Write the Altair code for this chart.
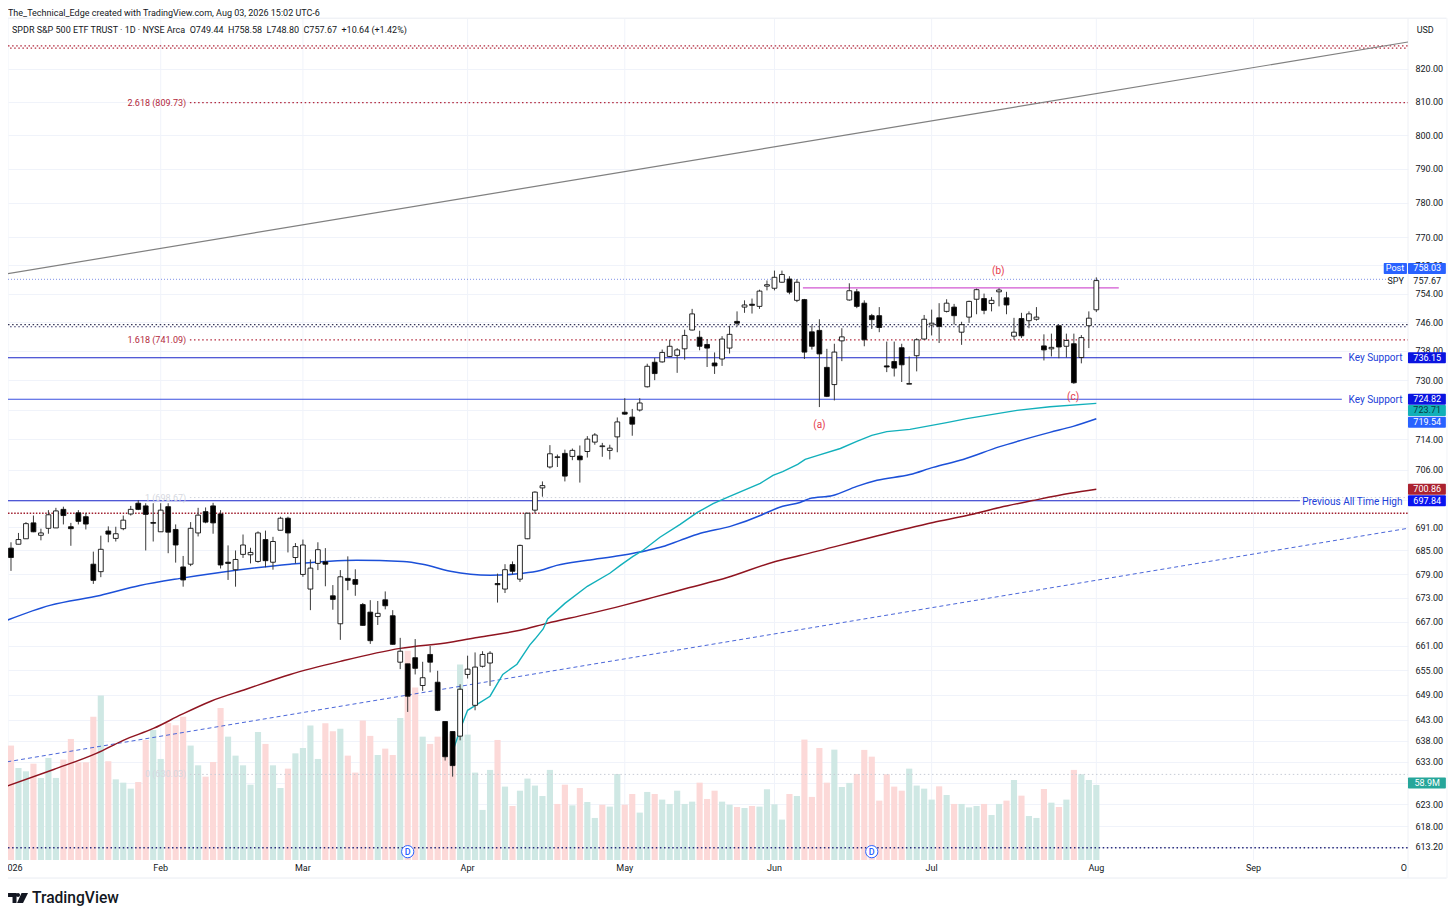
import altair as alt
import pandas as pd

opens=[685.6,686.6,688.0,692.1,688.9,690.7,690.8,695.6,691.1,694.7,
693.7,681.5,679.6,690.0,688.1,690.6,694.4,697.2,696.5,692.2,
689.8,696.3,690.4,680.8,681.5,689.5,695.0,696.5,694.4,682.0,
680.1,684.0,683.9,682.2,687.8,682.0,690.2,693.3,683.2,678.9,
675.2,681.7,682.1,673.5,666.5,677.9,677.6,671.3,669.4,668.3,
672.5,668.5,657.0,656.6,658.1,651.3,658.9,652.1,642.6,640.2,
639.1,654.0,646.5,656.0,656.8,676.6,675.2,681.4,677.7,688.0,
695.4,701.2,706.7,709.2,710.3,709.5,709.6,710.8,713.3,712.1,
711.1,714.7,721.3,720.0,721.9,728.2,734.9,735.0,736.5,736.8,
738.6,743.8,741.8,739.8,734.7,735.8,738.8,746.2,750.2,751.0,
750.4,756.1,755.5,757.2,758.1,752.1,752.3,743.3,743.7,733.5,
728.8,740.8,752.2,754.5,751.3,747.8,747.8,733.9,735.1,738.9,
728.9,736.7,741.3,745.2,747.2,749.0,750.2,743.2,747.4,752.4,
752.6,751.2,754.5,752.8,742.1,747.0,746.4,746.8,739.4,738.6,
745.0,739.3,740.0,736.2,745.0,749.44]
highs=[687.1,689.5,692.3,694.0,690.6,695.4,696.0,696.3,692.1,695.4,
694.7,684.7,688.8,691.2,691.1,694.0,696.5,698.0,697.2,697.2,
697.2,697.2,691.7,683.6,692.3,696.0,696.1,697.3,695.4,686.3,
685.0,689.1,685.7,689.9,690.1,688.5,693.7,693.7,686.9,687.8,
682.7,687.1,685.6,676.2,680.0,683.5,680.2,671.7,672.4,672.2,
674.6,669.9,663.0,656.6,662.7,657.1,661.0,654.9,642.6,640.2,
651.6,658.6,659.4,659.7,659.7,679.1,681.5,682.2,686.5,694.7,
700.3,702.9,712.5,710.0,711.3,711.6,712.4,714.9,715.7,713.1,
712.6,719.9,725.1,722.2,725.1,734.5,736.1,738.4,741.1,738.8,
743.9,749.7,743.6,741.3,737.6,742.1,745.0,749.0,752.1,752.6,
755.1,757.7,760.5,760.5,758.9,758.1,752.5,745.1,746.8,738.6,
740.0,744.3,756.9,755.3,752.1,748.3,750.2,740.6,740.6,740.0,
736.5,741.5,748.0,749.5,751.3,752.4,751.1,746.1,752.0,755.4,
754.0,753.0,755.5,754.5,747.2,748.6,749.0,750.2,742.6,742.8,
745.0,742.8,742.8,742.4,749.0,758.58]
lows=[679.8,686.6,688.0,689.7,687.6,689.3,690.8,691.7,686.2,691.7,
690.4,676.5,678.2,687.1,687.3,690.2,694.0,695.4,685.0,687.3,
689.8,684.3,681.9,675.8,681.0,688.6,692.0,689.3,680.4,677.5,
675.8,683.1,681.7,681.9,680.7,680.1,690.2,684.5,681.7,678.3,
669.9,680.0,675.9,670.0,662.5,674.9,673.5,666.0,661.5,666.2,
670.1,661.3,655.3,644.9,654.0,650.0,654.5,645.1,633.3,629.5,
638.1,653.0,645.3,655.7,651.2,671.8,674.2,678.9,677.0,687.9,
694.5,698.9,706.3,706.7,702.9,708.5,702.6,709.2,712.6,709.4,
708.7,710.6,720.6,715.0,721.5,728.0,730.0,734.8,736.3,732.0,
735.6,743.7,738.2,733.6,731.7,733.9,737.3,744.8,748.6,748.4,
749.7,754.9,754.9,757.1,753.8,751.6,735.8,738.4,722.7,725.4,
724.5,735.2,752.0,749.9,739.3,744.1,743.2,732.2,731.0,729.5,
728.9,732.4,741.1,742.3,740.2,748.7,745.3,739.7,745.8,748.2,
748.2,749.0,750.4,748.2,741.1,741.6,744.3,746.4,735.4,736.5,
736.0,736.2,729.0,734.6,738.8,748.80]
closes=[683.2,687.8,691.9,689.8,689.5,694.2,695.2,694.0,690.6,692.5,
691.8,677.4,685.3,689.2,689.3,692.8,695.6,695.6,694.3,692.0,
695.4,689.7,686.4,677.5,690.7,694.1,692.3,692.1,681.3,681.7,
682.7,686.4,684.5,689.5,682.4,687.3,693.3,689.5,686.0,686.4,
680.5,685.2,681.5,672.6,678.3,677.4,676.4,666.1,662.3,669.1,
671.0,661.4,659.7,648.7,655.5,653.2,657.0,645.3,634.2,632.1,
650.4,655.3,655.8,658.9,659.2,676.3,680.1,679.7,686.3,694.6,
700.1,701.8,710.2,709.4,704.3,711.1,708.6,714.1,715.2,712.3,
711.7,718.7,720.8,718.1,723.8,733.8,731.8,737.6,739.3,738.3,
742.3,748.3,739.3,738.8,733.9,741.3,742.6,745.7,750.8,750.7,
754.7,756.5,758.6,759.4,754.4,757.2,737.7,739.3,737.2,725.6,
737.7,741.9,754.8,750.4,741.1,746.7,744.5,733.6,733.3,734.2,
729.1,741.1,746.8,745.7,744.8,751.3,747.8,745.3,751.8,755.1,
749.3,752.1,755.0,750.8,743.2,742.2,748.3,747.4,738.3,739.0,
739.1,740.9,729.3,741.7,747.1,757.67]
volumes=[89.8,72.2,69.6,75.6,64.4,80.1,64.4,78.8,95.0,76.7,
76.7,112.5,129.0,77.5,63.3,60.7,56.0,61.2,94.2,102.1,
79.3,107.6,105.7,112.5,89.8,74.3,65.4,76.9,119.3,96.8,
81.9,74.3,59.1,100.5,91.1,74.3,56.5,71.7,83.7,87.9,
105.5,79.3,107.3,101.0,103.1,81.9,68.6,109.4,97.4,82.4,
87.4,82.4,111.5,164.3,135.3,96.8,91.1,96.8,96.8,98.9,
153.4,98.4,68.6,39.3,70.7,94.2,57.6,42.4,54.4,63.9,
58.4,50.2,70.7,44.0,59.1,42.9,56.5,45.5,33.0,43.4,
41.9,67.5,43.4,51.8,37.2,53.4,51.8,47.4,44.0,54.4,
44.0,45.8,60.7,47.9,54.4,45.8,43.4,41.6,40.8,42.4,
41.9,55.5,43.7,31.7,51.8,50.2,94.5,49.5,87.9,60.7,
86.6,57.3,60.5,67.5,86.4,81.1,46.6,67.3,57.6,54.4,
71.7,58.4,56.0,47.4,57.8,51.0,44.0,44.0,41.3,42.4,
44.0,35.3,44.0,46.6,62.8,50.5,34.5,33.0,55.7,45.0,
41.6,47.4,70.7,67.3,62.8,58.9]
vol_dirs=("rggrgggrrr""rrgrgggrrg""grrrggrrrg""ggggrggrgg""ggrrgrrrrg"
"rrgrrgrrrr""gggggrgrgg""gggrrgrggr""ggrrggrggg""ggrrrggrgr"
"ggggrgrrrr""gggrrrrrrr""ggggrgrggg""rggrgrggrg""rgrggg")

ma200_i=[-0.5,5.7,11.4,15,19.1,22.8,26.7,31.4,37.3,44,52,58.7,62.3,68,71.6,77,81.8,85.8,90.3,95.7,101.8,105.4,119.2,123.2,127.7,132.1,136.5,141.5,145]
ma200_p=[627.3,631.2,635.0,638.1,641.0,644.3,647.5,650.4,654.0,657.2,660.4,661.9,663.1,664.9,666.6,668.9,671.1,673.1,675.4,678.1,682.0,683.7,690.4,692.2,694.0,696.1,697.9,699.8,700.86]
ma100_i=[-0.5,5.2,11.9,17.2,22.6,27.9,37.3,46.2,52.4,55,58.7,64,68.4,70.7,72.9,77,81.4,85,87.1,89.4,92.1,96.1,100.1,101,103.1,105.4,106.7,109.8,113,115.7,120.1,123.2,127.2,132.1,134.8,138.8,141.9,145]
ma100_p=[667.4,671.1,673.6,676.1,677.9,679.4,681.5,682.5,682.2,681.5,679.7,678.7,679.2,679.9,681.2,682.5,683.7,685.0,686.0,687.6,689.4,691.2,694.0,694.8,696.4,697.4,698.4,699.2,701.6,703.2,704.7,706.6,708.7,712.1,713.7,715.9,717.5,719.54]
ma50_i=[59,60,61,64,65.7,67.6,69.3,70,71.1,71.7,74,77,80,81.4,83.1,84.4,86.7,89.4,91.7,93.8,95.7,100.1,101.8,103.1,105.1,106.1,107.7,110.8,113,115,117,120.1,125,127.7,134.4,138.8,145]
ma50_p=[635.3,640.7,645.3,648.7,654.0,656.5,661.2,662.7,665.2,667.7,671.6,675.9,679.2,681.2,683.5,685.0,688.4,691.7,694.8,697.1,698.7,702.4,704.5,705.5,707.4,708.7,709.7,711.6,713.5,715.1,716.1,716.7,718.5,719.6,721.8,722.8,723.71]
channel_grey_i=[-0.5,186.64]
channel_grey_p=[759.6,828.3]
channel_blue_i=[-0.5,186.64]
channel_blue_p=[633.0,690.7]

price_ticks=[820,810,800,790,780,770,762,754,746,738,730,722,714,706,698,691,685,679,673,667,661,655,649,643,638,633,628,623,618,613.2]
month_i=[0.2,20,39,61,82,102,123,145,166]
month_t=["2026","Feb","Mar","Apr","May","Jun","Jul","Aug","Sep"]
month_grid=[-0.4,20,39,61,82,102,123,145,166]

XMIN,XMAX=-0.4,186.64
FONT="Roboto"
FS=9
XS=alt.Scale(domain=[XMIN,XMAX],nice=False,zero=False)
PS=alt.Scale(type="log",domain=[610.2,835.45],nice=False,zero=False)
X=alt.X("i:Q",scale=XS,axis=None)
Y=alt.Y("p:Q",scale=PS,axis=None)

axis_layer=alt.Chart(pd.DataFrame({"i":[0.0]*len(price_ticks),"p":price_ticks})).mark_rule(opacity=0).encode(
    x=X,
    y=alt.Y("p:Q",scale=PS,title=None,axis=alt.Axis(orient="right",values=price_ticks,format=".2f",grid=True,gridColor="#f0f3fa",
        domain=False,ticks=False,labelFont=FONT,labelFontSize=FS,labelColor="#131722",labelPadding=7,labelFlush=False,
        labelBound=False,labelOverlap=False,title=None)))
month_grid_layer=alt.Chart(pd.DataFrame({"i":month_grid,"p":[835.45]*len(month_grid),"p2":[610.2]*len(month_grid)})).mark_rule(
    color="#f0f3fa",strokeWidth=1).encode(x=X,y=Y,y2="p2:Q")
month_text=alt.Chart(pd.DataFrame({"i":month_i,"t":month_t,"p":[608.3]*len(month_i)})).mark_text(
    font=FONT,fontSize=FS,color="#131722",align="center",baseline="middle").encode(x=X,y=Y,text="t:N")

df=pd.DataFrame({"i":range(len(opens)),"o":opens,"h":highs,"l":lows,"c":closes,"v":volumes,"d":list(vol_dirs)})
df["i"]=df["i"].astype(float)
df["vl"]=df.i-0.41; df["vr"]=df.i+0.41
df["bl"]=df.i-0.32; df["br"]=df.i+0.32
df["vc"]=df.d.map({"r":"#fcd9d8","g":"#cfe8e4"})
df["fill"]=["#ffffff" if c>=o else "#000000" for o,c in zip(opens,closes)]
df["z"]=0.0

vol_layer=alt.Chart(df).mark_rect().encode(
    x=alt.X("vl:Q",scale=XS,axis=None),x2="vr:Q",
    y=alt.Y("v:Q",scale=alt.Scale(domain=[0,660],nice=False,zero=True),axis=None),y2="z:Q",
    color=alt.Color("vc:N",scale=None))
wicks=alt.Chart(df).mark_rule(color="#3a3a3a",strokeWidth=1).encode(
    x=X,y=alt.Y("l:Q",scale=PS,axis=None),y2="h:Q")
bodies=alt.Chart(df).mark_rect(stroke="#111111",strokeWidth=0.9).encode(
    x=alt.X("bl:Q",scale=XS,axis=None),x2="br:Q",
    y=alt.Y("o:Q",scale=PS,axis=None),y2="c:Q",
    color=alt.Color("fill:N",scale=None))

def line(ii,pp,color,width=1.5,dash=None,interp="linear"):
    kw=dict(color=color,strokeWidth=width,clip=True,interpolate=interp)
    if dash: kw["strokeDash"]=dash
    return alt.Chart(pd.DataFrame({"i":ii,"p":pp})).mark_line(**kw).encode(x=X,y=Y,order="i:Q")

def hrule(p,i0,i1,color,width=1.0,dash=None,offset=0):
    kw=dict(color=color,strokeWidth=width)
    if dash: kw["strokeDash"]=dash
    if offset: kw["strokeDashOffset"]=offset
    return alt.Chart(pd.DataFrame({"i":[i0],"i2":[i1],"p":[p]})).mark_rule(**kw).encode(x=X,x2="i2:Q",y=Y)

def box(i0,i1,p,color,half=1.00205):
    return alt.Chart(pd.DataFrame({"i":[i0],"i2":[i1],"p":[p*half],"p2":[p/half]})).mark_rect(color=color,cornerRadius=1).encode(x=X,x2="i2:Q",y=Y,y2="p2:Q")

def txt(i,p,s,color="#131722",size=FS,align="left",weight=400):
    return alt.Chart(pd.DataFrame({"i":[i],"p":[p],"t":[s]})).mark_text(color=color,fontSize=size,align=align,baseline="middle",font=FONT,fontWeight=weight).encode(x=X,y=Y,text="t:N")

RED="#b2283c"; NAVY="#2a2c7c"; DOT=[1.5,2.6]
rules=[
 hrule(827.1,XMIN,XMAX,RED,1.2,DOT),
 hrule(826.4,XMIN,XMAX,RED,1.2,DOT,2),
 hrule(809.73,23.9,XMAX,RED,1.3,DOT),
 hrule(758.03,XMIN,184.6,"#7f90e6",1,[1,2]),
 hrule(745.3,XMIN,XMAX,"#333355",1.1,DOT),
 hrule(744.7,XMIN,XMAX,"#333366",1.1,DOT,2),
 hrule(741.09,23.9,XMAX,RED,1.3,DOT),
 hrule(736.15,XMIN,177.8,"#1a24c8",1.1),
 hrule(724.82,XMIN,177.8,"#3a4fe0",1.2),
 hrule(698.67,23.9,XMAX,"#d0d3dc",1,DOT),
 hrule(697.84,XMIN,172.2,"#1a24c8",1.1),
 hrule(694.6,XMIN,XMAX,"#a01e2e",1.7,[1.5,1.6]),
 hrule(630.03,23.9,XMAX,"#c8ccd6",1,DOT),
 hrule(613.0,XMIN,XMAX,NAVY,1.4,DOT),
 hrule(755.6,105.8,148,"#d257d2",1.3),
]
frame=[
 hrule(835.7,XMIN,191.8,"#e9ecf2",1),
 hrule(606.1,XMIN,191.8,"#e9ecf2",1),
 alt.Chart(pd.DataFrame({"i":[XMAX],"p":[835.7],"p2":[606.1]})).mark_rule(color="#eef0f5",strokeWidth=1).encode(x=X,y=Y,y2="p2:Q"),
 alt.Chart(pd.DataFrame({"i":[191.85],"p":[835.7],"p2":[606.1]})).mark_rule(color="#f2f4f8",strokeWidth=1).encode(x=X,y=Y,y2="p2:Q"),
]
lines=[
 line(channel_grey_i,channel_grey_p,"#808080",1.2),
 line(channel_blue_i,channel_blue_p,"#4a66d9",1,[4,3]),
 line(ma200_i,ma200_p,"#8f1420",1.5,interp="monotone"),
 line(ma100_i,ma100_p,"#1c50d8",1.5,interp="monotone"),
 line(ma50_i,ma50_p,"#12b0bb",1.4),
]
XB0,XB1=XMAX,191.7; XT=189.2
boxes=[
 box(183.4,186.5,761.1,"#2962ff"),box(XB0,XB1,761.1,"#2962ff"),
 box(XB0,XB1,736.15,"#0a14e0"),box(XB0,XB1,724.82,"#0a14e0"),
 box(XB0,XB1,721.8,"#12b0b8"),box(XB0,XB1,718.6,"#2962ff"),
 box(XB0,XB1,700.86,"#ab2230"),box(XB0,XB1,697.84,"#0a14f0"),
 box(XB0,XB1,628.0,"#26a69a"),
]
W="#ffffff"
N="\u00a0"
texts=[
 txt(-0.4,837.4,"The_Technical_Edge created with TradingView.com, Aug 03, 2026 15:02 UTC-6"),
 txt(0.13,832.0,f"SPDR S&P 500 ETF TRUST · 1D · NYSE Arca{N}{N}O749.44{N}{N}H758.58{N}{N}L748.80{N}{N}C757.67{N}{N}+10.64 (+1.42%)"),
 txt(187.8,832.0,"USD"),
 txt(23.4,809.73,"2.618 (809.73)",RED,FS,"right"),
 txt(23.4,741.09,"1.618 (741.09)",RED,FS,"right"),
 txt(23.4,698.67,"1 (698.67)","#d5d8e0",FS,"right"),
 txt(23.4,630.03,"0 (630.03)","#d5d8e0",FS,"right"),
 txt(108,718.0,"(a)","#e5394a",10,"center"),
 txt(131.9,760.4,"(b)","#e5394a",10,"center"),
 txt(141.9,725.5,"(c)","#e5394a",10,"center"),
 txt(185,757.6,"SPY",align="center"),
 txt(184.9,761.1,"Post",W,FS,"center"),
 txt(XT,761.1,"758.03",W,FS,"center"),
 txt(XT,757.5,"757.67",align="center"),
 txt(XT,736.15,"736.15",W,FS,"center"),
 txt(XT,724.82,"724.82",W,FS,"center"),
 txt(XT,721.8,"723.71","#0b3b3d",FS,"center"),
 txt(XT,718.6,"719.54",W,FS,"center"),
 txt(XT,700.86,"700.86",W,FS,"center"),
 txt(XT,697.84,"697.84",W,FS,"center"),
 txt(XT,628.0,"58.9M",W,FS,"center"),
 txt(185.9,736.0,"Key Support","#2040d8",10,"right"),
 txt(185.9,724.6,"Key Support","#2040d8",10,"right"),
 txt(185.9,697.6,"Previous All Time High","#2040d8",10,"right"),
 txt(186.1,608.3,"O",align="center"),
 txt(2.8,601.6,"TradingView","#131722",15.6,"left",500),
]
logo=alt.Chart(pd.DataFrame({"i":[0.94],"p":[601.6]})).mark_point(filled=True,size=400,color="#131722",opacity=1,
    shape="M-1 -0.5H-0.15V0.5H-0.55V-0.1H-1ZM0.2 -0.3A0.2 0.2 0 1 1 -0.2 -0.3A0.2 0.2 0 1 1 0.2 -0.3ZM0.35 -0.5H1L0.5 0.5H-0.1Z").encode(x=X,y=Y)
div=alt.Chart(pd.DataFrame({"i":[53.0,115.0],"p":[612.1,612.1]}))
d_marks=div.mark_point(filled=True,size=150,fill="#ffffff",stroke="#2962ff",strokeWidth=1,opacity=1).encode(x=X,y=Y)
d_text=div.mark_text(text="D",color="#2962ff",fontSize=9,font=FONT,fontWeight=500,baseline="middle").encode(x=X,y=Y)

chart=alt.layer(axis_layer,month_grid_layer,vol_layer,*frame,*rules,*lines,wicks,bodies,d_marks,d_text,*boxes,month_text,*texts,logo).resolve_scale(y="independent").properties(
    width=1400,height=841,padding={"left":0,"top":11,"right":40,"bottom":50},
    autosize=alt.AutoSizeParams(type="none"),background="#ffffff"
).configure_view(stroke=None)

chart.save("out.html",embed_options={"renderer":"svg","actions":False})
